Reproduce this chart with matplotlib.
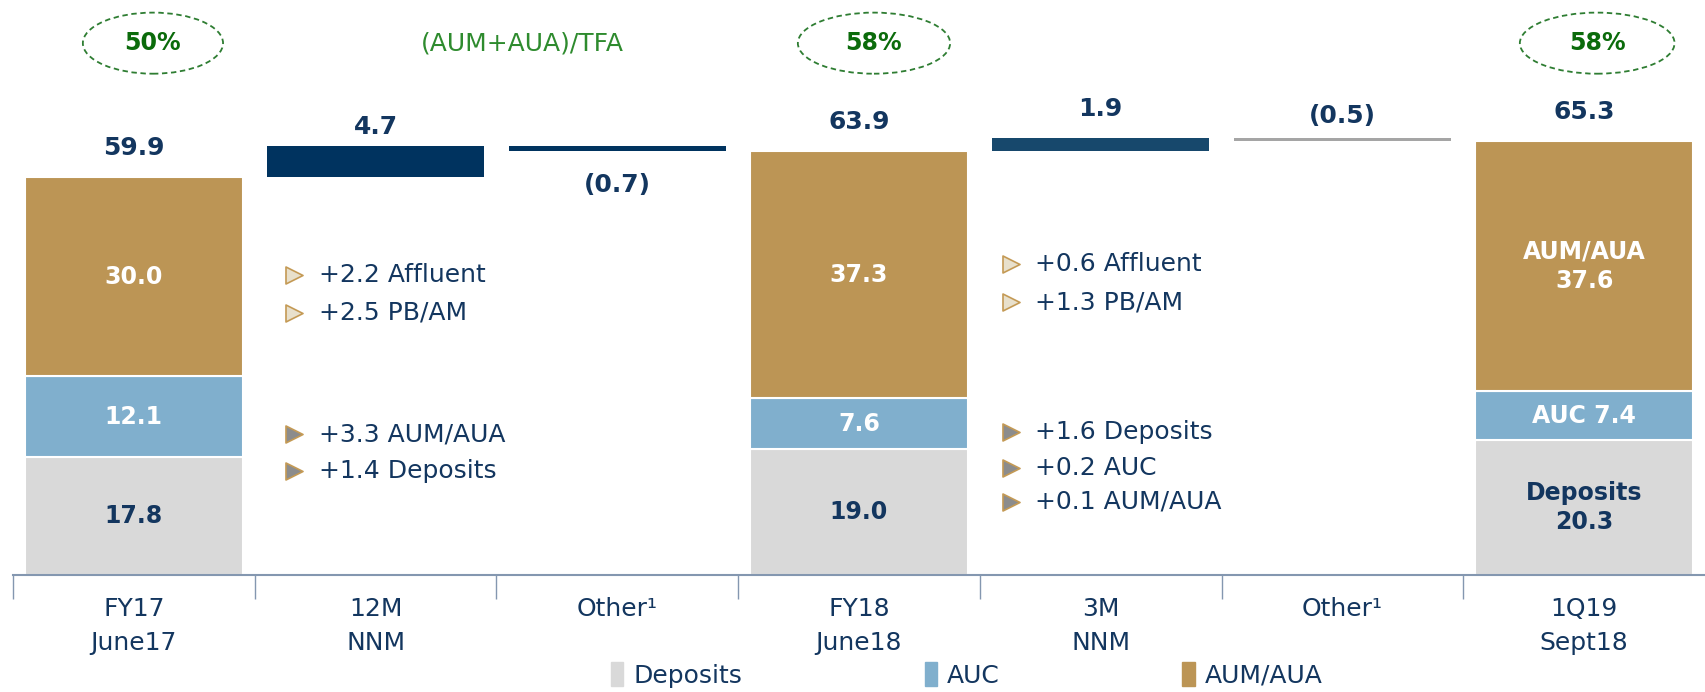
import matplotlib
matplotlib.use("Agg")
import matplotlib.pyplot as plt
from matplotlib.patches import Ellipse, Patch

categories = ["FY17\nJune17", "12M\nNNM", "Other¹", "FY18\nJune18", "3M\nNNM", "Other¹", "1Q19\nSept18"]
total_idx = [0, 3, 6]
deposits = [17.8, 19.0, 20.3]
auc = [12.1, 7.6, 7.4]
aum = [30.0, 37.3, 37.6]
step_idx = [1, 2, 4, 5]
steps = [4.7, -0.7, 1.9, -0.5]
step_labels = ["4.7", "(0.7)", "1.9", "(0.5)"]
ratios = ["50%", "58%", "58%"]
bullets_12m_light = ["+2.2 Affluent", "+2.5 PB/AM"]
bullets_12m_dark = ["+3.3 AUM/AUA", "+1.4 Deposits"]
bullets_3m_light = ["+0.6 Affluent", "+1.3 PB/AM"]
bullets_3m_dark = ["+1.6 Deposits", "+0.2 AUC", "+0.1 AUM/AUA"]

GOLD = "#BC9555"
LBLUE = "#80AFCD"
GREY = "#D9D9D9"
NAVY = "#13365F"
GREEN = "#0B6B0B"
step_colors = ["#00335F", "#00335F", "#17486C", "#A5A5A5"]

fig = plt.figure(figsize=(17.05, 6.92), dpi=100)
ax = fig.add_axes([13 / 1705, 117 / 692, 1 - 13 / 1705, 575 / 692])
ax.set_xlim(-0.5, 6.5)
ax.set_ylim(0, 86.6)

w = 0.9
totals = [d + a + m for d, a, m in zip(deposits, auc, aum)]
ax.bar(total_idx, deposits, w, color=GREY, edgecolor="white", lw=1.5, label="Deposits")
ax.bar(total_idx, auc, w, bottom=deposits, color=LBLUE, edgecolor="white", lw=1.5, label="AUC")
ax.bar(total_idx, aum, w, bottom=[d + a for d, a in zip(deposits, auc)], color=GOLD,
       edgecolor="white", lw=1.5, label="AUM/AUA")

# segment labels
seg_fmt = [
    ("{:.1f}", "{:.1f}", "{:.1f}"),
    ("{:.1f}", "{:.1f}", "{:.1f}"),
    ("Deposits\n{:.1f}", "AUC {:.1f}", "AUM/AUA\n{:.1f}"),
]
for k, i in enumerate(total_idx):
    fd, fa, fm = seg_fmt[k]
    d, a, m = deposits[k], auc[k], aum[k]
    ax.text(i, d / 2, fd.format(d), ha="center", va="center",
            color=NAVY, fontsize=17, fontweight="bold", linespacing=1.3)
    ax.text(i, d + a / 2, fa.format(a), ha="center", va="center",
            color="white", fontsize=17, fontweight="bold")
    ax.text(i, d + a + m / 2, fm.format(m), ha="center", va="center",
            color="white", fontsize=17, fontweight="bold", linespacing=1.3)
    ax.annotate(f"{totals[k]:.1f}", (i, totals[k]), xytext=(0, 21), textcoords="offset points",
                ha="center", va="center", color=NAVY, fontsize=18, fontweight="bold")

# waterfall steps
label_off = [13.5, -25, 21, 16]
start = totals[0]
for j, (i, s) in enumerate(zip(step_idx, steps)):
    if i == 4:
        start = totals[1]
    ax.bar(i, s, w, bottom=start, color=step_colors[j], lw=0)
    anchor = start + s if label_off[j] < 0 else max(start, start + s)
    ax.annotate(step_labels[j], (i, anchor), xytext=(0, label_off[j]),
                textcoords="offset points", ha="center", va="center",
                color=NAVY, fontsize=18, fontweight="bold")
    start += s

# ratio ellipses
for (x, r, ew) in zip([0.079, 3.062, 6.054], ratios, [0.58, 0.63, 0.64]):
    ax.add_patch(Ellipse((x, 80.1), ew, 9.2, fill=False, ls=(0, (3, 2)),
                         ec="#2E7D32", lw=1.3, clip_on=False))
    ax.text(x, 80.1, r, ha="center", va="center", color=GREEN, fontsize=17, fontweight="bold")
ax.text(1.606, 80.1, "(AUM+AUA)/TFA", ha="center", va="center", color="#2E8B2E", fontsize=18)

# bullet commentary
def bullets(xt, xs, ys, lines, face):
    for y, t in zip(ys, lines):
        ax.scatter([xt], [y], marker=">", s=150, facecolor=face, edgecolor="#C49A55", lw=1.2,
                   zorder=4, clip_on=False)
        ax.text(xs, y, t, ha="left", va="center", color=NAVY, fontsize=18)

bullets(0.663, 0.766, [45.2, 39.5], bullets_12m_light, "#E8E0CC")
bullets(0.663, 0.766, [21.2, 15.7], bullets_12m_dark, "#8C8C8C")
bullets(3.629, 3.728, [46.8, 41.1], bullets_3m_light, "#E8E0CC")
bullets(3.629, 3.728, [21.5, 16.1, 11.0], bullets_3m_dark, "#8C8C8C")

# axes styling
for sp in ["top", "right", "left"]:
    ax.spines[sp].set_visible(False)
ax.spines["bottom"].set_color("#8497B0")
ax.spines["bottom"].set_linewidth(1.5)
ax.set_yticks([])
ax.set_xticks(range(len(categories)))
ax.set_xticklabels(categories, color=NAVY, fontsize=18, linespacing=1.5)
ax.tick_params(axis="x", which="major", length=0, pad=16)
ax.set_xticks([i - 0.5 for i in range(len(categories))], minor=True)
ax.tick_params(axis="x", which="minor", length=17, color="#8497B0", width=1)

handles = [Patch(color=GREY), Patch(color=LBLUE), Patch(color=GOLD)]
leg = fig.legend(handles, ["Deposits", "AUC", "AUM/AUA"], loc="center",
                 bbox_to_anchor=(0.567, 17 / 692), ncol=3, frameon=False, fontsize=18,
                 handlelength=0.5, handleheight=1.1, handletextpad=0.4, columnspacing=7.3)
for t in leg.get_texts():
    t.set_color(NAVY)

fig.savefig("out.png", dpi=100)
